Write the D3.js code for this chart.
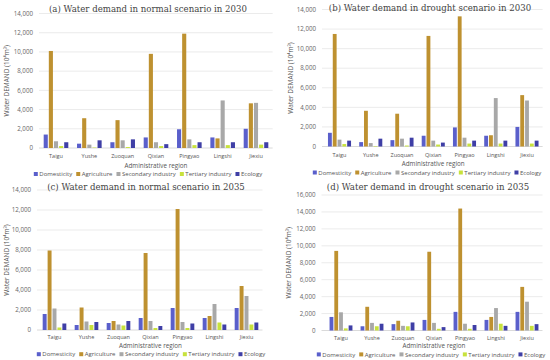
<!DOCTYPE html>
<html>
<head>
<meta charset="utf-8">
<script src="https://cdn.jsdelivr.net/npm/d3@7"></script>
<style>
  body { margin: 0; background: #fff; }
  svg { display: block; }
</style>
</head>
<body>
<svg id="chart" width="550" height="360"></svg>
<script>
// categories and series
const regions = ["Taigu", "Yushe", "Zuoquan", "Qixian", "Pingyao", "Lingshi", "Jiexiu"];
const sectors = ["Domesticity", "Agriculture", "Secondary industry", "Tertiary industry", "Ecology"];
const sectorColors = ["#5a5fcb", "#be9130", "#a8a8a8", "#c8e23c", "#3f3fa6"];

// values per region, in sector order (10^4 m3)
const normal2030 = [
    [1400, 10100, 700, 200, 600],
    [450, 3100, 350, 50, 800],
    [600, 2900, 800, 100, 900],
    [1100, 9800, 600, 200, 400],
    [1950, 11900, 900, 300, 600],
    [1100, 1000, 4950, 300, 600],
    [2000, 4650, 4700, 350, 600],
];
const drought2030 = [
    [1400, 11500, 700, 250, 600],
    [450, 3650, 350, 50, 800],
    [650, 3350, 800, 100, 900],
    [1100, 11300, 600, 200, 400],
    [1950, 13300, 900, 300, 600],
    [1100, 1150, 4950, 300, 600],
    [2000, 5250, 4700, 300, 600],
];
const normal2035 = [
    [1600, 7950, 2150, 250, 650],
    [500, 2250, 850, 500, 800],
    [700, 900, 550, 450, 900],
    [1200, 7700, 900, 200, 400],
    [2200, 12100, 800, 200, 650],
    [1200, 1400, 2600, 750, 550],
    [2200, 4400, 3400, 550, 750],
];
const drought2035 = [
    [1600, 9400, 2150, 250, 600],
    [500, 2800, 900, 500, 800],
    [750, 1150, 550, 500, 950],
    [1250, 9300, 900, 200, 400],
    [2200, 14400, 800, 200, 650],
    [1250, 1600, 2650, 800, 550],
    [2200, 5150, 3400, 550, 750],
];

const titles = [
    "(a) Water demand in normal scenario in 2030",
    "(b) Water demand in drought scenario in 2030",
    "(c) Water demand in normal scenario in 2035",
    "(d) Water demand in drought scenario in 2035",
];
const yMax = [14000, 14000, 14000, 16000];

// panel layout (pixel positions)
const panels = [
    {data: normal2030, titleX: 148, titleY: 9, tickRight: 33, yTop: 13.5, y0: 148, xFirst: 56, xLast: 256, catY: 156, axY: 165.5, legY: 174, legX: 148, yTitleX: 7},
    {data: drought2030, titleX: 430, titleY: 7.5, tickRight: 316, yTop: 9.5, y0: 146.5, xFirst: 339.5, xLast: 527, catY: 155.5, axY: 164, legY: 172.5, legX: 427, yTitleX: 291},
    {data: normal2035, titleX: 146, titleY: 187, tickRight: 31, yTop: 190, y0: 330, xFirst: 54.5, xLast: 246.5, catY: 337.5, axY: 345.8, legY: 354.2, legX: 151, yTitleX: 7},
    {data: drought2035, titleX: 428, titleY: 187, tickRight: 315.5, yTop: 195, y0: 330.5, xFirst: 341, xLast: 527, catY: 338, axY: 346.2, legY: 354.4, legX: 431, yTitleX: 289},
];

const svg = d3.select("#chart");
const sansFont = "'Open Sans', sans-serif";

panels.forEach((p, i) => {
    const g = svg.append("g");
    const step = (p.xLast - p.xFirst) / (regions.length - 1);

    const x0 = d3.scaleBand()
        .domain(regions)
        .range([p.xFirst - step / 2, p.xLast + step / 2])
        .padding(0);
    const x1 = d3.scaleBand()
        .domain(sectors)
        .range([step * 0.1, step * 0.9])
        .padding(0.2);
    const y = d3.scaleLinear()
        .domain([0, yMax[i]])
        .range([p.y0, p.yTop]);
    const color = d3.scaleOrdinal().domain(sectors).range(sectorColors);

    // grid
    const ticks = d3.range(0, yMax[i] + 1, 2000);
    const gridLeft = p.tickRight + 6;
    const gridRight = p.xLast + step / 2;
    g.append("g")
        .selectAll("line")
        .data(ticks)
        .join("line")
        .attr("x1", gridLeft)
        .attr("x2", gridRight)
        .attr("y1", d => y(d))
        .attr("y2", d => y(d))
        .attr("stroke", d => d === 0 ? "#d0d0d0" : "#e6e6e6")
        .attr("stroke-width", 0.8);

    // y axis tick labels
    g.append("g")
        .selectAll("text")
        .data(ticks)
        .join("text")
        .attr("x", p.tickRight)
        .attr("y", d => y(d))
        .attr("dy", "0.35em")
        .attr("text-anchor", "end")
        .style("font-family", sansFont)
        .style("font-size", "6.2px")
        .style("fill", "#666")
        .text(d => d3.format(",")(d));

    // bars
    g.append("g")
        .selectAll("g")
        .data(p.data)
        .join("g")
        .attr("transform", (d, j) => `translate(${x0(regions[j])},0)`)
        .selectAll("rect")
        .data(d => d.map((v, k) => ({sector: sectors[k], value: v})))
        .join("rect")
        .attr("x", d => x1(d.sector))
        .attr("width", x1.bandwidth())
        .attr("y", d => y(d.value))
        .attr("height", d => y(0) - y(d.value))
        .attr("fill", d => color(d.sector));

    // category labels
    g.append("g")
        .selectAll("text")
        .data(regions)
        .join("text")
        .attr("x", d => x0(d) + x0.bandwidth() / 2)
        .attr("y", p.catY)
        .attr("dy", "0.35em")
        .attr("text-anchor", "middle")
        .style("font-family", sansFont)
        .style("font-size", "5.5px")
        .style("fill", "#555")
        .text(d => d);

    // x axis title
    g.append("text")
        .attr("x", (p.xFirst + p.xLast) / 2)
        .attr("y", p.axY)
        .attr("dy", "0.35em")
        .attr("text-anchor", "middle")
        .style("font-family", sansFont)
        .style("font-size", "6.3px")
        .style("fill", "#555")
        .text("Administrative region");

    // y axis title
    const yMid = (p.y0 + p.yTop) / 2;
    g.append("text")
        .attr("transform", `translate(${p.yTitleX},${yMid}) rotate(-90)`)
        .attr("dy", "0.35em")
        .attr("text-anchor", "middle")
        .style("font-family", sansFont)
        .style("font-size", "6.5px")
        .style("fill", "#555")
        .text("Water DEMAND (10⁴m³)");

    // chart title
    g.append("text")
        .attr("x", p.titleX)
        .attr("y", p.titleY)
        .attr("dy", "0.35em")
        .attr("text-anchor", "middle")
        .style("font-family", "'DejaVu Serif', serif")
        .style("font-size", "8.6px")
        .style("fill", "#444")
        .text(titles[i]);

    // legend
    const leg = g.append("g");
    let cursor = 0;
    sectors.forEach((s, k) => {
        const item = leg.append("g").attr("transform", `translate(${cursor},0)`);
        item.append("rect")
            .attr("x", 0)
            .attr("y", -2)
            .attr("width", 4)
            .attr("height", 4)
            .attr("fill", sectorColors[k]);
        const t = item.append("text")
            .attr("x", 5.5)
            .attr("dy", "0.35em")
            .style("font-family", sansFont)
            .style("font-size", "6px")
            .style("fill", "#555")
            .text(s);
        cursor += 5.5 + t.node().getComputedTextLength() + 4;
    });
    const legW = cursor - 4;
    leg.attr("transform", `translate(${p.legX - legW / 2},${p.legY})`);
});
</script>
</body>
</html>
